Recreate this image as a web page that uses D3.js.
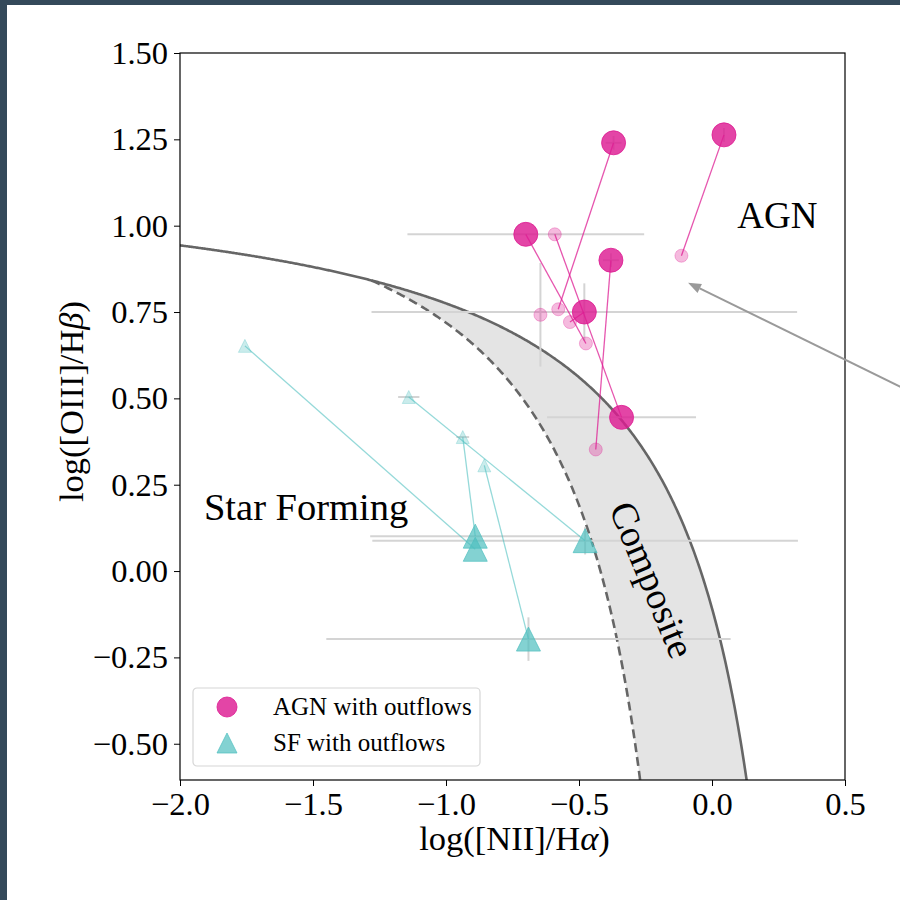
<!DOCTYPE html>
<html>
<head>
<meta charset="utf-8">
<script src="https://cdn.jsdelivr.net/npm/d3@7"></script>
<style>
  html, body { margin: 0; padding: 0; background: #34495a; }
  #wrap { position: absolute; left: 7px; top: 5px; width: 893px; height: 895px; background: #fff; }
  text { font-family: "Liberation Serif", "Times New Roman", serif; fill: #000; }
</style>
</head>
<body>
<div id="wrap"><svg id="chart" width="893" height="895"></svg></div>
<script>
// AGN with outflows (current position + previous position)
var agnX = [-0.37, 0.045, -0.70, -0.38, -0.48, -0.34];
var agnY = [1.24, 1.263, 0.975, 0.90, 0.75, 0.445];
var agnXerr = [0.03, 0.0, 0.445, 0.03, 0.80, 0.28];
var agnYerr = [0.02, 0.02, 0.0, 0.02, 0.083, 0.0];
var agnPrevX = [-0.578, -0.115, -0.474, -0.437, -0.534, -0.591, -0.645];
var agnPrevY = [0.758, 0.913, 0.659, 0.352, 0.721, 0.975, 0.742];
var agnPrevYerr = [0, 0, 0, 0, 0, 0, 0.15];

// SF with outflows
var sfX = [-0.89, -0.89, -0.477, -0.69];
var sfY = [0.101, 0.063, 0.088, -0.197];
var sfXerr = [0.395, 0.0, 0.80, 0.76];
var sfYerr = [0.0, 0.0, 0.04, 0.063];
var sfPrevX = [-0.937, -1.756, -1.14, -0.856];
var sfPrevY = [0.388, 0.652, 0.504, 0.306];
var sfPrevXerr = [0.024, 0.0, 0.04, 0.0];

// demarcation lines: y = a / (x - b) + c
var kewley = { a: 0.61, b: 0.47, c: 1.19 };
var kauffmann = { a: 0.61, b: 0.05, c: 1.30 };
var xCross = -1.28;

var xTicks = [-2.0, -1.5, -1.0, -0.5, 0.0, 0.5];
var yTicks = [-0.5, -0.25, 0.0, 0.25, 0.5, 0.75, 1.0, 1.25, 1.5];

var margin = { left: 173, top: 48 };
var width = 665, height = 727;

var magenta = "#dd1c93";
var cyan = "#4fbfbf";

const svg = d3.select("#chart")
  .append("g")
  .attr("transform", `translate(${margin.left},${margin.top})`);

const xScale = d3.scaleLinear().domain([-2.0, 0.5]).range([0, width]);
const yScale = d3.scaleLinear().domain([-0.605, 1.5]).range([height, 0]);

svg.append("clipPath").attr("id", "plotClip")
  .append("rect").attr("width", width).attr("height", height);

const plot = svg.append("g").attr("clip-path", "url(#plotClip)");

function demarc(p, x) { return p.a / (x - p.b) + p.c; }

// composite region
var kewPts = d3.range(xCross, 0.1915, 0.004).concat([0.1915]).map((x) => [x, demarc(kewley, x)]);
var kaufPts = d3.range(xCross, -0.215, 0.004).concat([-0.215]).map((x) => [x, demarc(kauffmann, x)]);
var linePath = d3.line().x((d) => xScale(d[0])).y((d) => yScale(d[1]));

plot.append("path")
  .attr("d", linePath(kewPts.concat(kaufPts.slice().reverse())) + "Z")
  .attr("fill", "#e4e4e4");

var kewFull = d3.range(-2.0, 0.1915, 0.004).concat([0.1915]).map((x) => [x, demarc(kewley, x)]);
plot.append("path")
  .attr("d", linePath(kewFull))
  .attr("fill", "none")
  .attr("stroke", "#666")
  .attr("stroke-width", 2.6);

plot.append("path")
  .attr("d", linePath(kaufPts))
  .attr("fill", "none")
  .attr("stroke", "#666")
  .attr("stroke-width", 2.6)
  .attr("stroke-dasharray", "9,5");

// error bars
function errBars(xs, ys, xe, ye) {
  xs.forEach(function (x, i) {
    var y = ys[i];
    if (xe && xe[i] > 0) {
      plot.append("line")
        .attr("x1", xScale(x - xe[i])).attr("x2", xScale(x + xe[i]))
        .attr("y1", yScale(y)).attr("y2", yScale(y))
        .attr("stroke", "#d4d4d4").attr("stroke-width", 2);
    }
    if (ye && ye[i] > 0) {
      plot.append("line")
        .attr("x1", xScale(x)).attr("x2", xScale(x))
        .attr("y1", yScale(y - ye[i])).attr("y2", yScale(y + ye[i]))
        .attr("stroke", "#d4d4d4").attr("stroke-width", 2);
    }
  });
}
errBars(agnX, agnY, agnXerr, agnYerr);
errBars(agnPrevX, agnPrevY, null, agnPrevYerr);
errBars(sfX, sfY, sfXerr, sfYerr);
errBars(sfPrevX, sfPrevY, sfPrevXerr, null);

// connecting lines
sfX.forEach(function (x, i) {
  plot.append("line")
    .attr("x1", xScale(sfPrevX[i])).attr("y1", yScale(sfPrevY[i]))
    .attr("x2", xScale(x)).attr("y2", yScale(sfY[i]))
    .attr("stroke", cyan).attr("stroke-opacity", 0.6).attr("stroke-width", 1.3);
});
agnX.forEach(function (x, i) {
  plot.append("line")
    .attr("x1", xScale(agnPrevX[i])).attr("y1", yScale(agnPrevY[i]))
    .attr("x2", xScale(x)).attr("y2", yScale(agnY[i]))
    .attr("stroke", magenta).attr("stroke-opacity", 0.75).attr("stroke-width", 1.3);
});

function triPath(s) {
  return `M0,${-s / 2}L${-s / 2},${s / 2}L${s / 2},${s / 2}Z`;
}

// previous positions (faint)
plot.selectAll(".sfPrev")
  .data(sfPrevX)
  .enter()
  .append("path")
  .attr("class", "sfPrev")
  .attr("d", triPath(13))
  .attr("transform", (d, i) => `translate(${xScale(d)},${yScale(sfPrevY[i])})`)
  .attr("fill", cyan).attr("fill-opacity", 0.3)
  .attr("stroke", cyan).attr("stroke-opacity", 0.3);

plot.selectAll(".agnPrev")
  .data(agnPrevX)
  .enter()
  .append("circle")
  .attr("class", "agnPrev")
  .attr("cx", (d) => xScale(d))
  .attr("cy", (d, i) => yScale(agnPrevY[i]))
  .attr("r", 6.5)
  .attr("fill", magenta).attr("fill-opacity", 0.3)
  .attr("stroke", magenta).attr("stroke-opacity", 0.3);

// current positions
plot.selectAll(".sf")
  .data(sfX)
  .enter()
  .append("path")
  .attr("class", "sf")
  .attr("d", triPath(24))
  .attr("transform", (d, i) => `translate(${xScale(d)},${yScale(sfY[i])})`)
  .attr("fill", cyan).attr("fill-opacity", 0.7)
  .attr("stroke", cyan).attr("stroke-opacity", 0.7);

plot.selectAll(".agn")
  .data(agnX)
  .enter()
  .append("circle")
  .attr("class", "agn")
  .attr("cx", (d) => xScale(d))
  .attr("cy", (d, i) => yScale(agnY[i]))
  .attr("r", 12)
  .attr("fill", magenta).attr("fill-opacity", 0.82)
  .attr("stroke", magenta).attr("stroke-opacity", 0.82);

// region labels
svg.append("text")
  .attr("x", xScale(-1.91)).attr("y", yScale(0.148))
  .style("font-size", "38.5px")
  .text("Star Forming");

svg.append("text")
  .attr("x", xScale(0.095)).attr("y", yScale(0.992))
  .style("font-size", "37px")
  .text("AGN");

svg.append("text")
  .attr("transform", `translate(${xScale(-0.225)},${yScale(-0.025)}) rotate(67.5)`)
  .attr("text-anchor", "middle")
  .attr("dominant-baseline", "central")
  .style("font-size", "38px")
  .text("Composite");

// axes
const xAxis = svg.append("g")
  .attr("transform", `translate(0,${height})`)
  .call(d3.axisBottom(xScale)
    .tickValues(xTicks)
    .tickFormat((d) => d3.format(".1f")(d).replace("-", "\u2212"))
    .tickSize(6).tickPadding(6).tickSizeOuter(0));

const yAxis = svg.append("g")
  .call(d3.axisLeft(yScale)
    .tickValues(yTicks)
    .tickFormat((d) => d3.format(".2f")(d).replace("-", "\u2212"))
    .tickSize(6).tickPadding(6).tickSizeOuter(0));

[xAxis, yAxis].forEach(function (ax) {
  ax.select(".domain").remove();
  ax.selectAll("text").style("font-size", "32.5px").attr("font-family", null);
  ax.selectAll("line").attr("stroke", "#000");
});

svg.append("rect")
  .attr("width", width).attr("height", height)
  .attr("fill", "none").attr("stroke", "#000").attr("stroke-width", 1.2);

// axis labels
const xl = svg.append("text")
  .attr("x", width / 2 + 2).attr("y", height + 70)
  .attr("text-anchor", "middle")
  .style("font-size", "34.5px");
xl.append("tspan").text("log([NII]/H");
xl.append("tspan").style("font-style", "italic").text("\u03b1");
xl.append("tspan").text(")");

const yl = svg.append("text")
  .attr("transform", `translate(${-97},${height / 2 - 15}) rotate(-90)`)
  .attr("text-anchor", "middle")
  .style("font-size", "34.5px");
yl.append("tspan").text("log([OIII]/H");
yl.append("tspan").style("font-style", "italic").text("\u03b2");
yl.append("tspan").text(")");

// annotation arrow
var arrTail = [0.93, 0.45], arrTip = [-0.09, 0.835];
var tx = xScale(arrTip[0]), ty = yScale(arrTip[1]);
var sx = xScale(arrTail[0]), sy = yScale(arrTail[1]);
var ang = Math.atan2(ty - sy, tx - sx);
var headLen = 13, headW = 5;
var bx = tx - headLen * Math.cos(ang), by = ty - headLen * Math.sin(ang);
svg.append("line")
  .attr("x1", sx).attr("y1", sy).attr("x2", bx).attr("y2", by)
  .attr("stroke", "#9a9a9a").attr("stroke-width", 2);
svg.append("path")
  .attr("d", `M${tx},${ty}L${bx + headW * Math.sin(ang)},${by - headW * Math.cos(ang)}L${bx - headW * Math.sin(ang)},${by + headW * Math.cos(ang)}Z`)
  .attr("fill", "#9a9a9a");

// legend
const legend = svg.append("g").attr("transform", "translate(13,635)");
legend.append("rect")
  .attr("width", 287).attr("height", 78).attr("rx", 4)
  .attr("fill", "#fff").attr("fill-opacity", 0.8)
  .attr("stroke", "#d6d6d6").attr("stroke-width", 1.2);
legend.append("circle")
  .attr("cx", 34).attr("cy", 19).attr("r", 10)
  .attr("fill", magenta).attr("fill-opacity", 0.82)
  .attr("stroke", magenta).attr("stroke-opacity", 0.82);
legend.append("path")
  .attr("d", triPath(20))
  .attr("transform", "translate(34,55)")
  .attr("fill", cyan).attr("fill-opacity", 0.7)
  .attr("stroke", cyan).attr("stroke-opacity", 0.7);
legend.append("text").attr("x", 80).attr("y", 27).style("font-size", "25px").text("AGN with outflows");
legend.append("text").attr("x", 80).attr("y", 63).style("font-size", "25px").text("SF with outflows");
</script>
</body>
</html>
